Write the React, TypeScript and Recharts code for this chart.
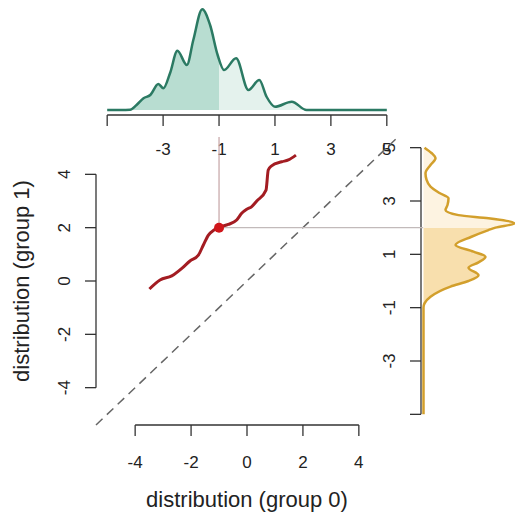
import React from "react";
import { ComposedChart, Area, Line, XAxis, YAxis, ReferenceLine, ReferenceDot } from "recharts";

const W = 515;
const H = 515;
const FONT = '"Liberation Sans", Arial, Helvetica, sans-serif';
const INK = "#333333";

// R-style limits: -5..5 widened by 4% on each side
const LIM: [number, number] = [-5.4, 5.4];
const mainTicks = [-4, -2, 0, 2, 4];
const marginTicks = [-5, -3, -1, 1, 3, 5];

// quantile curve, group 0 (x) against group 1 (y)
const qqX = [-3.49, -3.11, -2.69, -2.33, -2.04, -1.74, -1.56, -1.38, -1.18, -0.99, -0.67, -0.37, -0.19, -0.01, 0.17, 0.35, 0.68, 0.76, 0.88, 1.24, 1.48, 1.75];
const qqY = [-0.3, 0.04, 0.19, 0.47, 0.75, 0.97, 1.35, 1.72, 1.91, 2.02, 2.12, 2.29, 2.54, 2.69, 2.79, 3.0, 3.41, 4.16, 4.32, 4.47, 4.54, 4.72];

// highlighted quantile
const markX = -1;
const markY = 2;

// density of group 0 (top margin)
const dens0X = [-5, -4.5, -4.18, -3.95, -3.7, -3.46, -3.17, -2.99, -2.75, -2.49, -2.15, -1.92, -1.6, -1.32, -1.05, -0.82, -0.39, 0.05, 0.44, 0.7, 1.0, 1.6, 2.13, 2.5, 5];
const dens0D = [0, 0, 0.001, 0.02, 0.047, 0.06, 0.104, 0.087, 0.148, 0.237, 0.18, 0.28, 0.403, 0.34, 0.22, 0.16, 0.207, 0.08, 0.12, 0.053, 0.013, 0.033, 0, 0, 0];

// density of group 1 (right margin)
const dens1Y = [-5, -1.0, -0.84, -0.59, -0.21, 0.0, 0.22, 0.5, 0.7, 0.91, 1.1, 1.35, 1.66, 1.91, 2.0, 2.16, 2.35, 2.47, 2.66, 2.85, 3.1, 3.3, 3.54, 3.8, 4.04, 4.35, 4.6, 4.8, 5.0];
const dens1D = [0, 0, 0.004, 0.028, 0.108, 0.18, 0.22, 0.18, 0.22, 0.248, 0.2, 0.128, 0.192, 0.26, 0.288, 0.364, 0.26, 0.14, 0.088, 0.096, 0.1, 0.064, 0.028, 0.012, 0.008, 0.028, 0.048, 0.032, 0.004];

const qq = qqX.map((x, i) => ({ x, y: qqY[i] }));
const diag = LIM.map((v) => ({ x: v, y: v }));
const dens0 = dens0X.map((x, i) => ({ x, d: dens0D[i] }));
const dens1 = dens1Y.map((y, i) => ({ y, d: dens1D[i] }));

const d0Dom: [number, number] = [-0.02, 0.44];
const d1Dom: [number, number] = [-0.01, 0.366];

// where the fill changes shade, as a fraction of each density's extent
const split0 = (markX - dens0X[0]) / (dens0X[dens0X.length - 1] - dens0X[0]);
const split1 = (dens1Y[dens1Y.length - 1] - markY) / (dens1Y[dens1Y.length - 1] - dens1Y[0]);

const txt = { fontFamily: FONT, fontSize: 17, fill: "#222" };

const bottomTick = (dy: number, skip?: number) => (props: any) => {
  const { x, y, payload } = props;
  if (payload.value === skip) return <g />;
  return (
    <text x={x} y={y + dy} textAnchor="middle" {...txt}>
      {payload.value}
    </text>
  );
};

const leftTick = (skip?: number) => (props: any) => {
  const { x, y, payload } = props;
  if (payload.value === skip) return <g />;
  return (
    <text transform={`translate(${x - 13}, ${y}) rotate(-90)`} textAnchor="middle" {...txt}>
      {payload.value}
    </text>
  );
};

const layer: React.CSSProperties = { position: "absolute", left: 0, top: 0 };

export default function App() {
  return (
    <div style={{ position: "absolute", left: 0, top: 0, width: W, height: H, background: "#fff" }}>
      {/* top margin: density of group 0 */}
      <div style={layer}>
        <ComposedChart width={W} height={170} data={dens0} margin={{ top: 0, right: 117, bottom: 0, left: 96 }}>
          <defs>
            <linearGradient id="g0split" x1="0" y1="0" x2="1" y2="0">
              <stop offset={0} stopColor="#b8ddd1" />
              <stop offset={split0} stopColor="#b8ddd1" />
              <stop offset={split0} stopColor="#e4f2ed" />
              <stop offset={1} stopColor="#e4f2ed" />
            </linearGradient>
          </defs>
          <XAxis
            type="number"
            dataKey="x"
            domain={LIM}
            ticks={marginTicks}
            height={55}
            axisLine={false}
            tickSize={11}
            tickLine={{ stroke: INK, strokeWidth: 1.3 }}
            tick={bottomTick(27, -5)}
          />
          <YAxis hide type="number" domain={d0Dom} />
          <ReferenceLine
            segment={[{ x: -5, y: d0Dom[0] }, { x: 5, y: d0Dom[0] }]}
            stroke={INK}
            strokeWidth={1.3}
            ifOverflow="visible"
          />
          <Area
            type="monotone"
            dataKey="d"
            stroke="#2b7a63"
            strokeWidth={2.5}
            fill="url(#g0split)"
            fillOpacity={1}
            isAnimationActive={false}
          />
        </ComposedChart>
      </div>

      {/* right margin: density of group 1 */}
      <div style={layer}>
        <ComposedChart
          width={W}
          height={H}
          layout="vertical"
          data={dens1}
          margin={{ top: 137, right: 0, bottom: 90, left: 300 }}
        >
          <defs>
            <linearGradient id="g1split" x1="0" y1="0" x2="0" y2="1">
              <stop offset={0} stopColor="#fdf3e1" />
              <stop offset={split1} stopColor="#fdf3e1" />
              <stop offset={split1} stopColor="#f8dfad" />
              <stop offset={1} stopColor="#f8dfad" />
            </linearGradient>
          </defs>
          <XAxis hide type="number" dataKey="d" domain={d1Dom} height={0} />
          <YAxis
            type="number"
            dataKey="y"
            domain={LIM}
            reversed
            ticks={marginTicks}
            width={121}
            axisLine={false}
            tickSize={11}
            tickLine={{ stroke: INK, strokeWidth: 1.3 }}
            tick={leftTick(-5)}
          />
          <ReferenceLine
            segment={[{ x: d1Dom[0], y: -5 }, { x: d1Dom[0], y: 5 }]}
            stroke={INK}
            strokeWidth={1.3}
            ifOverflow="visible"
          />
          <Area
            type="monotone"
            dataKey="d"
            stroke="#d29f2c"
            strokeWidth={2.5}
            fill="url(#g1split)"
            fillOpacity={1}
            isAnimationActive={false}
          />
        </ComposedChart>
      </div>

      {/* main panel */}
      <div style={layer}>
        <ComposedChart width={W} height={H} margin={{ top: 137, right: 117, bottom: 0, left: 0 }}>
          <XAxis
            type="number"
            dataKey="x"
            domain={LIM}
            ticks={mainTicks}
            height={90}
            axisLine={false}
            tickSize={11}
            tickLine={{ stroke: INK, strokeWidth: 1.3 }}
            tick={bottomTick(30)}
          />
          <YAxis
            type="number"
            dataKey="y"
            domain={LIM}
            ticks={mainTicks}
            width={96}
            axisLine={false}
            tickSize={11}
            tickLine={{ stroke: INK, strokeWidth: 1.3 }}
            tick={leftTick()}
          />
          <ReferenceLine
            segment={[{ x: -4, y: LIM[0] }, { x: 4, y: LIM[0] }]}
            stroke={INK}
            strokeWidth={1.3}
            ifOverflow="visible"
          />
          <ReferenceLine
            segment={[{ x: LIM[0], y: -4 }, { x: LIM[0], y: 4 }]}
            stroke={INK}
            strokeWidth={1.3}
            ifOverflow="visible"
          />
          <Line
            data={diag}
            dataKey="y"
            type="linear"
            stroke="#666"
            strokeWidth={1.5}
            strokeDasharray="9 6"
            dot={false}
            isAnimationActive={false}
          />
          <ReferenceLine
            segment={[{ x: markX, y: markY }, { x: markX, y: LIM[1] }]}
            stroke="#c9aaac"
            strokeWidth={1.3}
            ifOverflow="visible"
          />
          <ReferenceLine
            segment={[{ x: markX, y: markY }, { x: 6.3, y: markY }]}
            stroke="#c2baba"
            strokeWidth={1.3}
            ifOverflow="visible"
          />
          <Line
            data={qq}
            dataKey="y"
            type="monotone"
            stroke="#a31c22"
            strokeWidth={3}
            dot={false}
            isAnimationActive={false}
          />
          <ReferenceDot x={markX} y={markY} r={5} fill="#d0161b" stroke="none" ifOverflow="visible" />
        </ComposedChart>
      </div>

      {/* axis titles */}
      <svg width={W} height={H} style={{ ...layer, pointerEvents: "none" }}>
        <text x={247} y={507} textAnchor="middle" fontFamily={FONT} fontSize={22} fill="#222">
          distribution (group 0)
        </text>
        <text transform="translate(29, 281) rotate(-90)" textAnchor="middle" fontFamily={FONT} fontSize={22} fill="#222">
          distribution (group 1)
        </text>
      </svg>
    </div>
  );
}
